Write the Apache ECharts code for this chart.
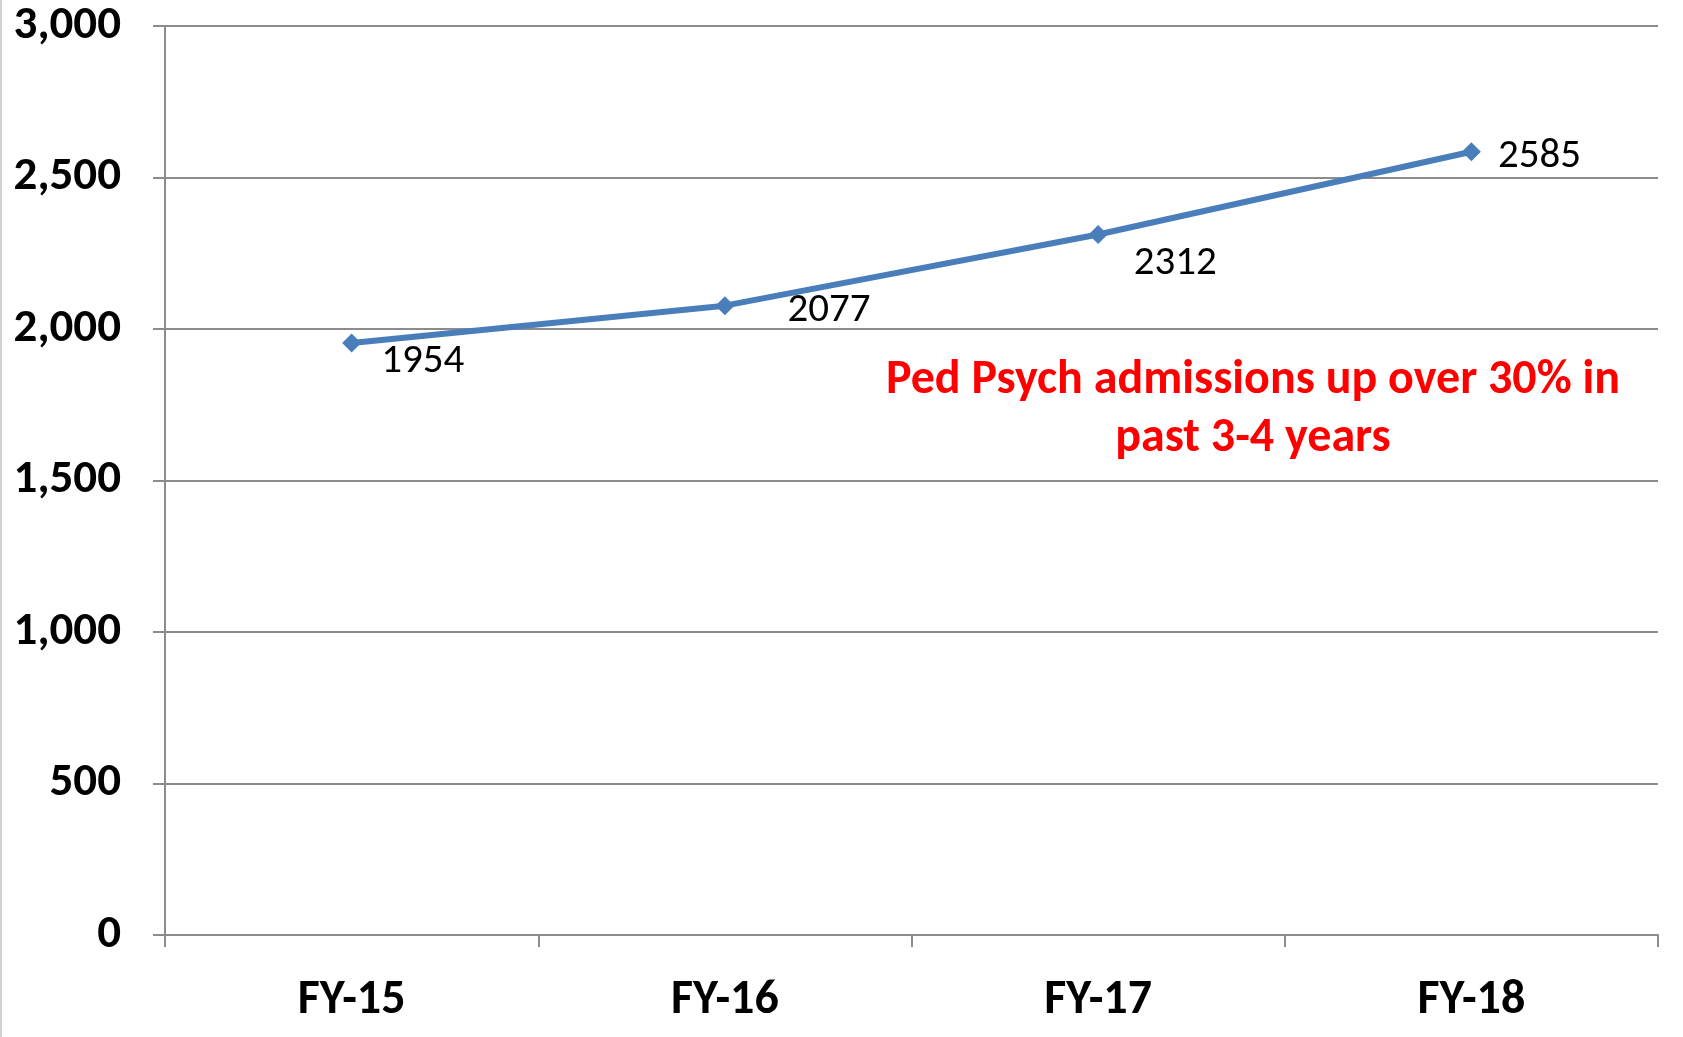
<!DOCTYPE html>
<html>
<head>
<meta charset="utf-8">
<script src="https://cdn.jsdelivr.net/npm/echarts@6/dist/echarts.min.js"></script>
<style>
  html, body { margin: 0; padding: 0; background: #fff; }
  #chart { width: 1683px; height: 1037px; }
</style>
</head>
<body>
<div id="chart"></div>
<script>
// data
const categories = ['FY-15', 'FY-16', 'FY-17', 'FY-18'];
const admissions = [1954, 2077, 2312, 2585];
const noteLines = ['Ped Psych admissions up over 30% in', 'past 3-4 years'];

const FONT = 'Carlito, "Liberation Sans Narrow", "Open Sans", sans-serif';

// where each value label sits relative to its point
const labelOffsets = [[20, 19], [53, 5], [26, 29], [17, 5]];

const chart = echarts.init(document.getElementById('chart'));

const option = {
  animation: false,
  grid: {
    left: 165,
    right: 25,
    top: 26,
    bottom: 102,
  },
  xAxis: {
    type: 'category',
    data: categories,
    boundaryGap: true,
    axisLine: { lineStyle: { color: '#8c8c8c', width: 2 } },
    axisTick: { show: true, length: 12, lineStyle: { color: '#8c8c8c', width: 2 } },
    axisLabel: {
      margin: 42,
      color: '#000',
      fontFamily: FONT,
      fontWeight: 'bold',
      fontSize: 48,
    },
  },
  yAxis: {
    type: 'value',
    min: 0,
    max: 3000,
    interval: 500,
    axisLine: { show: true, lineStyle: { color: '#8c8c8c', width: 2 } },
    axisTick: { show: true, inside: false, length: 12, lineStyle: { color: '#8c8c8c', width: 2 } },
    axisLabel: {
      margin: 44,
      color: '#000',
      fontFamily: FONT,
      fontWeight: 'bold',
      fontSize: 47,
      padding: [6, 0, 0, 0],
      formatter: (v) => v.toLocaleString('en-US'),
    },
    splitLine: { show: true, lineStyle: { color: '#8c8c8c', width: 2 } },
  },
  series: [
    {
      type: 'line',
      data: admissions.map((v, i) => ({
        value: v,
        label: { offset: labelOffsets[i] },
      })),
      symbol: 'diamond',
      symbolSize: 19,
      itemStyle: { color: '#4a7ebb' },
      lineStyle: { color: '#4a7ebb', width: 6 },
      label: {
        show: true,
        position: 'right',
        distance: 0,
        color: '#000',
        fontFamily: FONT,
        fontSize: 41,
      },
    },
  ],
  graphic: [
    {
      type: 'line',
      shape: { x1: 1, y1: 0, x2: 1, y2: 1037 },
      style: { stroke: '#d0d0d0', lineWidth: 2 },
    },
    {
      type: 'text',
      x: 1253,
      y: 352,
      style: {
        text: noteLines.join('\n'),
        fill: '#ff0000',
        font: 'bold 48px ' + FONT,
        align: 'center',
        lineHeight: 58,
      },
    },
  ],
};

chart.setOption(option);
</script>
</body>
</html>
